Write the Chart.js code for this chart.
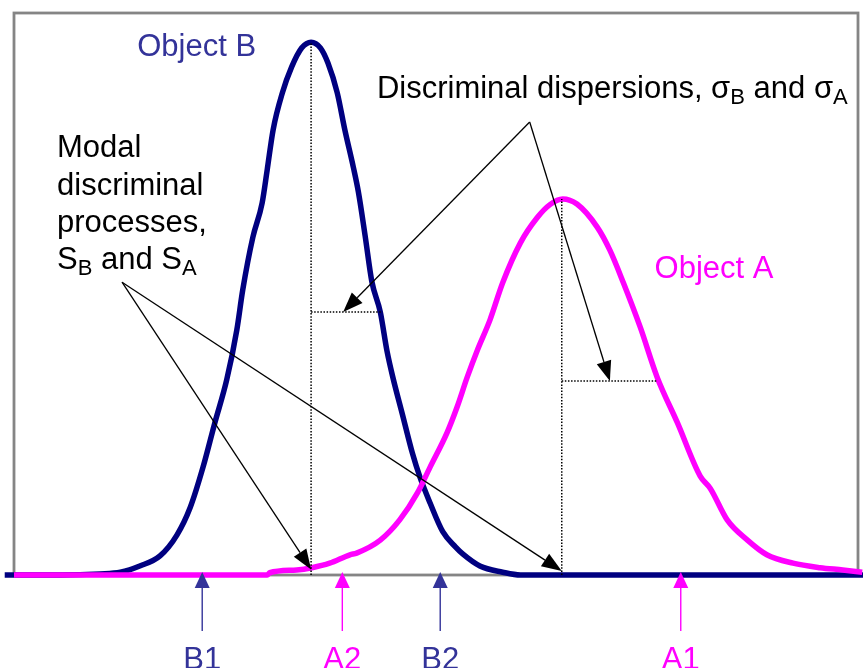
<!DOCTYPE html>
<html><head><meta charset="utf-8">
<script src="https://cdn.jsdelivr.net/npm/chart.js@4.4.1/dist/chart.umd.min.js"></script>
<style>html,body{margin:0;padding:0;background:#fff;overflow:hidden}#wrap{width:863px;height:668px;position:relative}</style>
</head><body><div id="wrap"><canvas id="c" width="863" height="668"></canvas></div>
<script>
// ---- data (arbitrary units: x 0..100 across the frame, y 0..100 up the frame)
const objectBX = [-1.1, 5.5, 10.2, 12.6, 14.9, 17.3, 19.3, 20.9, 22.4, 23.8, 25.2, 26.4, 27.1, 28.3, 29.4, 30.0, 30.7, 31.8, 32.9, 34.1, 35.2, 36.3, 37.2, 38.3, 39.2, 40.2, 40.8, 41.6, 42.4, 43.4, 44.2, 44.9, 46.0, 47.2, 48.1, 49.3, 50.8, 52.3, 53.2, 55.2, 57.9, 60.0, 64.7, 100.6];
const objectBY = [0, 0, 0.2, 0.5, 1.6, 3.4, 7.1, 12.1, 19.2, 27.1, 34.7, 43.6, 50.7, 60.1, 66.2, 72.1, 79.2, 85.8, 90.4, 93.8, 94.8, 93.8, 91.1, 85.8, 79.2, 72.6, 68.2, 60.4, 52.2, 46.8, 39.8, 35.1, 28.7, 21.7, 17.4, 12.8, 7.7, 5.0, 3.7, 1.6, 0.5, 0, 0, 0];
const objectAX = [0, 30.0, 30.3, 33.5, 35.3, 37.4, 39.8, 40.6, 43.4, 45.7, 47.8, 49.3, 51.3, 52.5, 53.7, 54.9, 56.4, 57.9, 60.0, 62.0, 63.5, 65.0, 66.7, 69.1, 70.6, 72.2, 74.2, 76.2, 78.6, 81.3, 82.5, 84.5, 86.9, 89.2, 92.3, 95.5, 98.2, 100.5];
const objectAY = [0, 0, 0.4, 0.9, 1.3, 2.1, 3.6, 3.9, 6.2, 9.8, 14.6, 19.2, 25.3, 29.9, 35.2, 40.0, 45.4, 52.0, 59.1, 63.6, 65.9, 66.9, 66.0, 61.9, 57.8, 52.0, 44.1, 35.2, 27.1, 17.6, 15.4, 9.8, 6.2, 3.6, 2.1, 1.3, 0.9, 0.5];

// modal processes and dispersion marks
const modeB = 35.2, peakB = 94.8;
const modeA = 64.9, peakA = 66.9;
const sigmaB = { y: 46.8, xEnd: 43.5 };
const sigmaA = { y: 34.5, xEnd: 76.2 };

// stimulus markers below the axis
const markerLabels = ['B1', 'A2', 'B2', 'A1'];
const markerValues = [22.3, 38.9, 50.5, 79.0];
const markerObject = ['B', 'A', 'B', 'A'];

// ---- styling
const NAVY = '#000080', BLUE = '#333399', MAG = '#ff00ff';
const FONT = "'Liberation Sans', Arial, sans-serif";

const pts = (xs, ys) => xs.map((x, i) => ({ x, y: ys[i] }));
const dotted = (xs, ys) => ({
  data: pts(xs, ys), borderColor: '#000', borderWidth: 1.5, borderDash: [1.5, 1.6],
  pointRadius: 0, order: 0, clip: false, tension: 0
});

function drawRich(ctx, parts, x, y, size, color) {
  ctx.fillStyle = color; ctx.textBaseline = 'alphabetic'; ctx.textAlign = 'left';
  let cx = x;
  for (const p of parts) {
    const s = p.sub ? Math.round(size * 0.7) : size;
    ctx.font = s + 'px ' + FONT;
    ctx.fillText(p.t, cx, p.sub ? y + 6 : y);
    cx += ctx.measureText(p.t).width;
  }
}
function arrow(ctx, x1, y1, x2, y2, color, lw, len, half) {
  const a = Math.atan2(y2 - y1, x2 - x1);
  const bx = x2 - len * Math.cos(a), by = y2 - len * Math.sin(a);
  ctx.strokeStyle = color; ctx.fillStyle = color; ctx.lineWidth = lw;
  ctx.beginPath(); ctx.moveTo(x1, y1); ctx.lineTo(bx, by); ctx.stroke();
  ctx.beginPath(); ctx.moveTo(x2, y2);
  ctx.lineTo(bx + half * Math.sin(a), by - half * Math.cos(a));
  ctx.lineTo(bx - half * Math.sin(a), by + half * Math.cos(a));
  ctx.closePath(); ctx.fill();
}

const frame = {
  id: 'frame',
  beforeDatasetsDraw(chart) {
    const { ctx, chartArea: a } = chart;
    ctx.save();
    ctx.strokeStyle = '#858585'; ctx.lineWidth = 2.8;
    ctx.strokeRect(a.left, a.top, a.right - a.left, a.bottom - a.top);
    ctx.restore();
  }
};

const notes = {
  id: 'notes',
  afterDatasetsDraw(chart) {
    const { ctx, scales: { x: X, y: Y } } = chart;
    const px = v => X.getPixelForValue(v), py = v => Y.getPixelForValue(v);
    ctx.save();
    // modal discriminal processes arrows
    const mo = { x: 12.8, y: 52.1 };
    arrow(ctx, px(mo.x), py(mo.y), px(modeB), py(1.0), '#000', 1.3, 20, 7.5);
    arrow(ctx, px(mo.x), py(mo.y), px(modeA), py(0.7), '#000', 1.3, 20, 7.5);
    // dispersion arrows
    const dO = { x: 61.1, y: 80.6 };
    arrow(ctx, px(dO.x), py(dO.y), px(39.0), py(sigmaB.y), '#000', 1.3, 20, 7.5);
    arrow(ctx, px(dO.x), py(dO.y), px(70.6), py(sigmaA.y), '#000', 1.3, 20, 7.5);

    // labels
    drawRich(ctx, [{ t: 'Object B' }], px(14.6), py(92.3), 31, BLUE);
    drawRich(ctx, [{ t: 'Object A' }], px(75.9), py(52.8), 31, MAG);
    drawRich(ctx, [{ t: 'Discriminal dispersions, σ' }, { t: 'B', sub: true }, { t: ' and σ' }, { t: 'A', sub: true }], px(43.0), py(84.9), 31, '#000');
    drawRich(ctx, [{ t: 'Modal' }], px(5.1), py(74.4), 31, '#000');
    drawRich(ctx, [{ t: 'discriminal' }], px(5.1), py(67.7), 31, '#000');
    drawRich(ctx, [{ t: 'processes,' }], px(5.1), py(61.0), 31, '#000');
    drawRich(ctx, [{ t: 'S' }, { t: 'B', sub: true }, { t: ' and S' }, { t: 'A', sub: true }], px(5.1), py(54.4), 31, '#000');

    // stimulus markers under the axis
    const base = py(0);
    markerValues.forEach((v, i) => {
      const col = markerObject[i] === 'B' ? BLUE : MAG;
      const x = px(v);
      arrow(ctx, x, base + 56, x, base - 3, col, 1.4, 16, 7.5);
      ctx.font = '31px ' + FONT; ctx.fillStyle = col;
      ctx.textAlign = 'center'; ctx.textBaseline = 'alphabetic';
      ctx.fillText(markerLabels[i], x, base + 94);
    });
    ctx.restore();
  }
};

new Chart(document.getElementById('c'), {
  type: 'line',
  data: {
    datasets: [
      dotted([modeB, modeB], [0, peakB]),
      dotted([modeB, sigmaB.xEnd], [sigmaB.y, sigmaB.y]),
      dotted([modeA, modeA], [0, peakA]),
      dotted([modeA, sigmaA.xEnd], [sigmaA.y, sigmaA.y]),
      { label: 'Object A', data: pts(objectAX, objectAY), borderColor: MAG, borderWidth: 5.5,
        pointRadius: 0, cubicInterpolationMode: 'monotone', order: 1, clip: false, borderJoinStyle: 'round' },
      { label: 'Object B', data: pts(objectBX, objectBY), borderColor: NAVY, borderWidth: 5.5,
        pointRadius: 0, cubicInterpolationMode: 'monotone', order: 2, clip: false, borderJoinStyle: 'round' }
    ]
  },
  options: {
    responsive: false, animation: false, devicePixelRatio: 1,
    layout: { padding: { left: 14, right: 5, top: 13, bottom: 93 } },
    plugins: { legend: { display: false }, tooltip: { enabled: false } },
    scales: {
      x: { type: 'linear', min: 0, max: 100, display: false },
      y: { type: 'linear', min: 0, max: 100, display: false }
    }
  },
  plugins: [frame, notes]
});
</script>
</body></html>
